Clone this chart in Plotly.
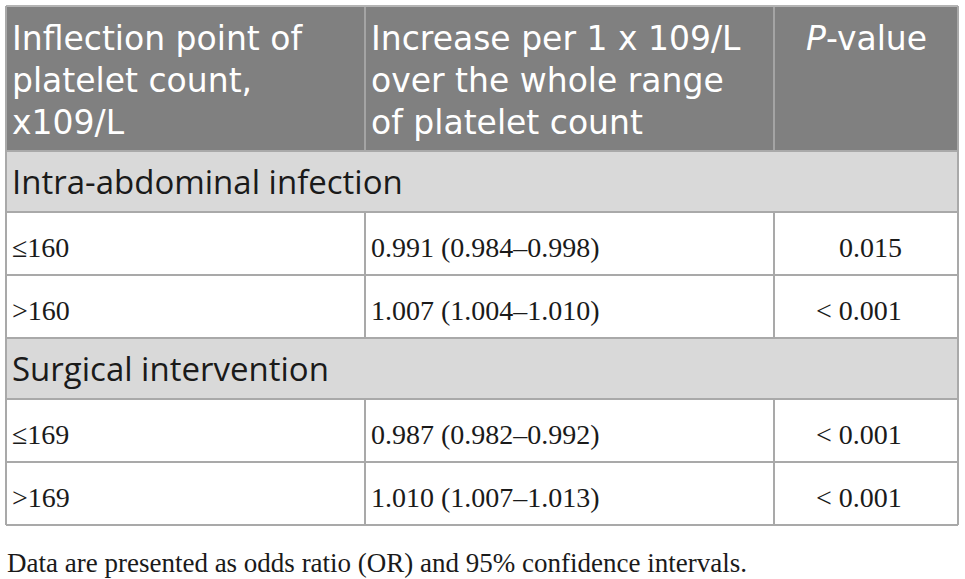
import plotly.graph_objects as go

# ── table content ───────────────────────────────────────────────────
HEADER_COL1 = ["Inflection point of", "platelet count,", "x109/L"]
HEADER_COL2 = ["Increase per 1 x 109/L", "over the whole range", "of platelet count"]
HEADER_COL3 = ["<i>P</i>-value"]

SECTIONS = ["Intra-abdominal infection", "Surgical intervention"]
THRESHOLDS = [["≤160", ">160"], ["≤169", ">169"]]
ESTIMATES = [
    ["0.991 (0.984–0.998)", "1.007 (1.004–1.010)"],
    ["0.987 (0.982–0.992)", "1.010 (1.007–1.013)"],
]
P_VALUES = [["0.015", "< 0.001"], ["< 0.001", "< 0.001"]]

FOOTNOTE = "Data are presented as odds ratio (OR) and 95% confidence intervals."

# ── geometry / style ────────────────────────────────────────────────
W, H = 965, 579
COL_EDGES = [6, 365, 774, 958]
HEADER_H = 145
SECTION_H = 61
ROW_H = 63
TOP = 6

HEADER_BG = "#808080"
SECTION_BG = "#d9d9d9"
BORDER = "#a9a9a9"
HEAD_FONT = "DejaVu Sans"
SECTION_FONT = "Open Sans"
SERIF = "Liberation Serif"

shapes = []
annotations = []


def rect(x0, y0, x1, y1, fill):
    shapes.append(dict(type="rect", xref="x", yref="y", x0=x0, x1=x1, y0=y0, y1=y1,
                       fillcolor=fill, line=dict(width=0), layer="below"))


def hline(y, x0=COL_EDGES[0], x1=COL_EDGES[-1], color=BORDER, width=2):
    shapes.append(dict(type="line", xref="x", yref="y", x0=x0, x1=x1, y0=y, y1=y,
                       line=dict(color=color, width=width)))


def vline(x, y0, y1, color=BORDER, width=2):
    shapes.append(dict(type="line", xref="x", yref="y", x0=x, x1=x, y0=y0, y1=y1,
                       line=dict(color=color, width=width)))


def text(x, y, s, size, family, color="#1a1a1a", anchor="left"):
    annotations.append(dict(x=x, y=y, xref="x", yref="y", text=s, showarrow=False,
                            xanchor=anchor, yanchor="middle",
                            font=dict(size=size, family=family, color=color)))


# header
y = TOP
rect(COL_EDGES[0], y, COL_EDGES[-1], y + HEADER_H, HEADER_BG)
for i, line in enumerate(HEADER_COL1):
    text(COL_EDGES[0] + 4, y + 32 + i * 42, line, 33, HEAD_FONT, "white")
for i, line in enumerate(HEADER_COL2):
    text(COL_EDGES[1] + 4, y + 32 + i * 42, line, 33, HEAD_FONT, "white")
for i, line in enumerate(HEADER_COL3):
    text((COL_EDGES[2] + COL_EDGES[3]) / 2, y + 32 + i * 42, line, 33, HEAD_FONT, "white", "center")
vline(COL_EDGES[1], y, y + HEADER_H, "#a4a4a4")
vline(COL_EDGES[2], y, y + HEADER_H, "#a4a4a4")
hline(y, color="#b4b4b4")
y += HEADER_H

# sections with their rows
for s, section in enumerate(SECTIONS):
    rect(COL_EDGES[0], y, COL_EDGES[-1], y + SECTION_H, SECTION_BG)
    text(COL_EDGES[0] + 4, y + SECTION_H / 2, section, 33, SECTION_FONT)
    hline(y)
    y += SECTION_H
    for r in range(len(THRESHOLDS[s])):
        hline(y)
        vline(COL_EDGES[1], y, y + ROW_H)
        vline(COL_EDGES[2], y, y + ROW_H)
        cy = y + ROW_H / 2 + 4
        text(COL_EDGES[0] + 4, cy, THRESHOLDS[s][r], 28, SERIF)
        text(COL_EDGES[1] + 4, cy, ESTIMATES[s][r], 28, SERIF)
        text(COL_EDGES[3] - 54, cy, P_VALUES[s][r], 28, SERIF, anchor="right")
        y += ROW_H
hline(y)

# outer left / right borders
vline(COL_EDGES[0], TOP, y)
vline(COL_EDGES[-1], TOP, y)

text(COL_EDGES[0] - 1, 563, FOOTNOTE, 27, SERIF)

fig = go.Figure()
fig.update_layout(
    width=W,
    height=H,
    margin=dict(l=0, r=0, t=0, b=0),
    paper_bgcolor="white",
    plot_bgcolor="white",
    shapes=shapes,
    annotations=annotations,
    showlegend=False,
    xaxis=dict(range=[0, W], visible=False, fixedrange=True),
    yaxis=dict(range=[H, 0], visible=False, fixedrange=True),
)

# drop the default 8px body margin so the table sits where the reference has it
fig.write_html(
    "out.html",
    config=dict(displayModeBar=False),
    post_script="document.body.style.margin='0';document.body.style.overflow='hidden';",
)
